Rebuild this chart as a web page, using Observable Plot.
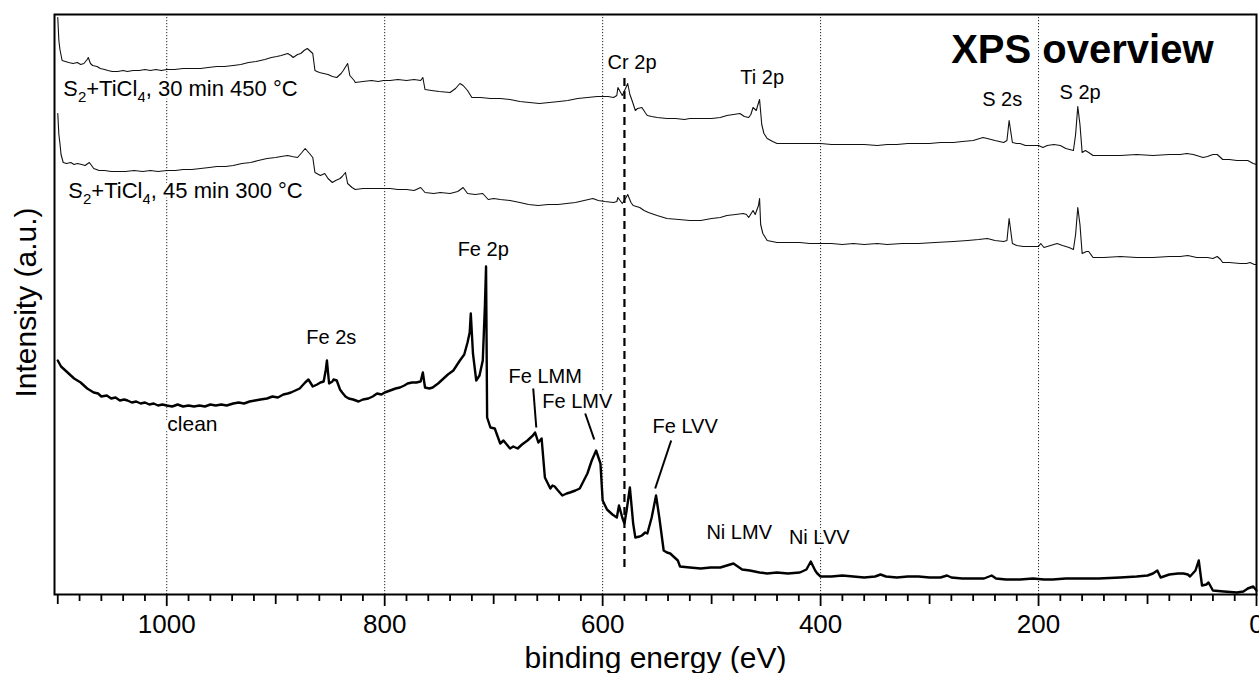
<!DOCTYPE html>
<html>
<head>
<meta charset="utf-8">
<script src="https://cdn.jsdelivr.net/npm/d3@7"></script>
<script src="https://cdn.jsdelivr.net/npm/@observablehq/plot@0.6"></script>
<style>
  html, body { margin: 0; padding: 0; background: #fff; overflow: hidden; }
  #chart svg { display: block; overflow: hidden; }
</style>
</head>
<body>
<div id="chart"></div>
<script>
const FONT = '"Liberation Sans", Arial, Helvetica, sans-serif';

// XPS survey spectra: [binding energy (eV), intensity (a.u., offset per trace)]
const cleanSpectrum = [
  [1100,234],[1097,228],[1094,225],[1091,222],[1088,219],[1085,216],[1082,214],[1079,212],[1076,209],[1073,206],
  [1070,204],[1067,202],[1063,201],[1060,198],[1055,199],[1051,196],[1047,197],[1043,194],[1039,195],[1036,194],
  [1032,192],[1028,193],[1024,191],[1020,192],[1016,190],[1012,191],[1008,189],[1004,190],[1000,189],[995,188],
  [990,190],[985,188],[980,189],[975,188],[970,189],[965,188],[960,190],[955,189],[950,190],[945,189],
  [939,191],[934,192],[929,191],[924,193],[919,194],[914,195],[908,196],[903,198],[898,197],[893,200],
  [889,201],[886,202],[882,204],[878,206],[873,212],[870,215],[866,208],[862,210],[859,212],[856,213],
  [854,225],[853,234],[852,222],[851,211],[848,213],[847,215],[844,214],[841,205],[839,202],[836,198],
  [833,196],[829,195],[824,193],[820,195],[815,196],[811,198],[807,201],[803,200],[800,202],[795,204],
  [790,206],[786,207],[782,209],[779,211],[775,212],[771,212],[767,213],[765,222],[763,207],[759,206],
  [756,207],[751,211],[746,216],[742,220],[737,224],[734,229],[731,234],[727,240],[724,252],[722,262],
  [721,281],[719,241],[716,214],[713,219],[712,224],[710,234],[708,290],[707,328],[706,177],[703,167],
  [699,166],[694,151],[691,154],[688,150],[685,146],[682,148],[678,146],[674,150],[669,154],[666,157],
  [664,159],[662,162],[659,152],[656,156],[653,117],[648,106],[646,109],[644,108],[641,104],[637,99],
  [633,101],[630,102],[625,104],[621,106],[614,121],[610,134],[606,144],[602,131],[600,94],[596,85],
  [591,80],[587,77],[585,89],[582,77],[580,71],[578,84],[575,107],[572,71],[570,57],[566,58],
  [564,59],[561,62],[559,61],[555,77],[551,99],[548,77],[544,44],[541,42],[538,41],[534,37],
  [531,34],[529,28],[520,27],[510,26],[501,27],[492,27],[486,29],[480,31],[472,25],[465,24],
  [456,22],[449,21],[440,22],[430,21],[419,22],[413,25],[409,33],[405,24],[403,21],[400,18],
  [390,18],[380,19],[370,18],[360,17],[350,18],[345,20],[340,18],[330,17],[320,18],[310,18],
  [300,17],[290,17],[284,19],[280,17],[270,16],[260,16],[250,16],[243,19],[239,16],[230,15],
  [217,15],[205,16],[195,15],[187,15],[175,16],[160,16],[145,16],[125,17],[110,18],[100,19],
  [95,21],[91,24],[88,17],[80,20],[72,21],[67,21],[63,20],[61,18],[56,24],[53,34],
  [50,9],[46,10],[44,12],[42,8],[40,4],[30,3],[18,2],[12,3],[8,6],[3,8],[0,4]
];

const spectrum300 = [
  [1100,481],[1099,460],[1098,451],[1097,440],[1095,432],[1092,431],[1088,432],[1085,430],[1082,431],[1078,430],
  [1075,429],[1071,432],[1067,426],[1062,424],[1057,424],[1051,423],[1045,423],[1038,423],[1030,424],[1022,423],
  [1015,424],[1008,423],[1000,424],[992,424],[985,425],[977,425],[969,426],[961,427],[954,428],[946,428],
  [939,429],[931,431],[923,432],[916,434],[908,436],[900,437],[895,438],[889,439],[885,438],[880,437],
  [876,442],[873,446],[869,441],[866,437],[864,422],[859,419],[857,420],[855,421],[852,416],[848,412],
  [845,414],[841,416],[839,418],[836,422],[834,411],[830,407],[827,405],[820,406],[813,406],[806,406],
  [801,406],[795,406],[788,405],[780,405],[773,404],[767,407],[763,402],[755,401],[749,402],[740,401],
  [733,403],[728,407],[724,401],[717,400],[710,401],[705,395],[700,396],[694,395],[685,394],[676,392],
  [668,390],[659,389],[650,390],[641,390],[633,391],[625,392],[617,394],[609,396],[604,394],[598,393],
  [590,392],[587,393],[586,397],[582,391],[579,396],[577,400],[574,392],[572,389],[569,388],[566,387],
  [562,384],[558,382],[550,379],[541,376],[530,375],[520,374],[510,374],[500,376],[492,377],[486,379],
  [478,380],[471,381],[468,380],[466,377],[462,384],[460,380],[457,389],[456,396],[455,370],[453,361],
  [449,354],[440,352],[430,352],[419,352],[410,351],[400,351],[390,351],[380,350],[370,351],[360,350],
  [348,351],[339,350],[325,351],[310,351],[295,352],[278,353],[265,354],[255,355],[247,356],[240,354],
  [232,353],[229,354],[227,376],[224,351],[220,349],[214,348],[207,348],[200,348],[198,351],[195,347],
  [189,349],[183,351],[178,349],[172,347],[168,345],[166,360],[164,387],[162,370],[160,341],[156,343],
  [154,343],[150,337],[140,337],[125,338],[110,337],[95,337],[80,338],[70,338],[63,339],[55,337],
  [45,337],[40,336],[36,338],[33,335],[31,332],[25,332],[15,331],[9,331],[6,332],[2,330],[0,330]
];

const spectrum450 = [
  [1100,577],[1099,554],[1098,545],[1096,534],[1093,533],[1090,532],[1086,531],[1082,532],[1079,530],[1076,531],
  [1073,535],[1072,537],[1070,531],[1068,529],[1064,528],[1061,526],[1057,525],[1054,524],[1050,523],[1045,523],
  [1040,524],[1036,523],[1031,524],[1025,524],[1020,525],[1015,524],[1010,525],[1005,524],[1000,525],[993,525],
  [985,526],[977,526],[969,526],[962,527],[954,528],[947,528],[939,529],[932,530],[925,532],[918,533],
  [914,534],[910,535],[904,537],[899,538],[895,539],[892,540],[889,541],[886,539],[884,537],[880,540],
  [877,541],[874,544],[871,546],[868,543],[866,541],[864,524],[860,522],[856,521],[852,520],[848,518],
  [844,517],[840,521],[838,524],[834,531],[832,519],[828,514],[827,512],[820,513],[812,514],[806,513],
  [801,514],[795,514],[788,515],[780,514],[773,515],[767,514],[765,517],[763,505],[757,504],[750,503],
  [740,502],[735,506],[731,511],[728,509],[724,504],[720,497],[712,497],[703,496],[694,496],[685,495],
  [676,493],[667,492],[658,491],[649,492],[640,493],[632,494],[623,496],[614,497],[605,498],[602,498],
  [595,498],[590,497],[587,499],[586,507],[583,501],[582,499],[579,506],[577,511],[575,500],[573,494],
  [570,484],[568,486],[564,487],[561,482],[559,479],[555,478],[550,477],[541,476],[533,476],[525,475],
  [520,476],[510,476],[500,476],[492,477],[486,479],[480,480],[474,481],[470,478],[466,477],[464,480],
  [462,487],[459,484],[458,488],[456,495],[454,470],[452,461],[449,456],[444,453],[440,451],[430,451],
  [419,451],[410,451],[400,451],[390,450],[380,450],[370,450],[360,450],[348,449],[339,450],[330,450],
  [320,451],[310,451],[300,451],[290,452],[278,452],[270,453],[260,454],[251,457],[247,456],[240,454],
  [232,452],[229,454],[227,474],[224,452],[220,451],[217,451],[212,449],[205,449],[200,449],[196,447],
  [192,449],[186,450],[180,449],[175,446],[168,444],[166,460],[164,488],[162,470],[160,442],[157,444],
  [154,442],[150,439],[140,439],[125,439],[110,440],[95,439],[80,440],[70,440],[64,441],[58,440],
  [52,438],[49,437],[45,438],[40,440],[36,440],[34,438],[31,435],[25,435],[18,434],[12,434],
  [8,434],[3,431],[0,430]
];

// Peak assignments, placed at (binding energy, intensity)
const peakLabels = [
  {text: "Cr 2p",  be: 573,   y: 526},
  {text: "Ti 2p",  be: 453.6, y: 511},
  {text: "S 2s",   be: 233.4, y: 489},
  {text: "S 2p",   be: 161.8, y: 496},
  {text: "Fe 2s",  be: 849,   y: 251},
  {text: "Fe 2p",  be: 709.6, y: 339},
  {text: "Fe LMM", be: 652.7, y: 212},
  {text: "Fe LMV", be: 623.3, y: 187},
  {text: "Fe LVV", be: 524.3, y: 162},
  {text: "Ni LMV", be: 474.7, y: 56},
  {text: "Ni LVV", be: 401.2, y: 51}
];

// Trace names
const traceLabels = [
  {text: "S2+TiCl4, 30 min 450 °C", be: 1095,   y: 499, size: 22},
  {text: "S2+TiCl4, 45 min 300 °C", be: 1090.3, y: 397, size: 22},
  {text: "clean",                   be: 999.5,  y: 164, size: 21}
];

// Leader lines from labels to the Auger features
const leaders = [
  {be1: 663.7, y1: 206, be2: 660.9, y2: 167},
  {be1: 616.0, y1: 181, be2: 607.7, y2: 155},
  {be1: 537.1, y1: 154, be2: 551.8, y2: 106}
];

// Cr 2p reference energy
const crMarker = [{be: 580, y1: 27, y2: 521}];

const gridEnergies = [1000, 800, 600, 400, 200];
const labelTicks = [0, 200, 400, 600, 800, 1000];
const midTicks = [100, 300, 500, 700, 900, 1100];
const minorTicks = d3.range(0, 1101, 20).filter(v => v % 100 !== 0);

const plot = Plot.plot({
  width: 1259,
  height: 673,
  marginLeft: 54,
  marginRight: 3,
  marginTop: 14,
  marginBottom: 79,
  x: {domain: [1103, 0]},
  y: {domain: [0, 580], axis: null},
  style: {fontFamily: FONT, fontSize: "26px", color: "#000", background: "#fff"},
  marks: [
    Plot.ruleX(gridEnergies, {stroke: "#222", strokeWidth: 1, strokeDasharray: "1.2,1.8"}),
    Plot.axisX(minorTicks, {tickSize: 7, strokeWidth: 1.8, tickFormat: () => "", label: null}),
    Plot.axisX(midTicks, {tickSize: 10, strokeWidth: 1.8, tickFormat: () => "", label: null}),
    Plot.axisX(labelTicks, {tickSize: 12, tickPadding: 8, strokeWidth: 1.8, fontSize: 26,
      tickFormat: d => String(d), label: null}),
    Plot.text(peakLabels, {x: "be", y: "y", text: "text", fontSize: 20, lineAnchor: "bottom",
      fill: "#000", stroke: "#fff", strokeWidth: 6, paintOrder: "stroke"}),
    Plot.text(traceLabels, {x: "be", y: "y", text: "text", fontSize: d => d.size, lineAnchor: "bottom",
      textAnchor: "start", fill: "#000", stroke: "#fff", strokeWidth: 6, paintOrder: "stroke"}),
    Plot.text(["XPS overview"], {frameAnchor: "top-right", dx: -43, dy: 48, lineAnchor: "bottom",
      textAnchor: "end", fontSize: 40, fontWeight: "bold", fill: "#000",
      stroke: "#fff", strokeWidth: 10, paintOrder: "stroke"}),
    Plot.ruleX(crMarker, {x: "be", y1: "y1", y2: "y2", stroke: "#000", strokeWidth: 2.2,
      strokeDasharray: "8,5"}),
    Plot.line(spectrum450, {x: d => d[0], y: d => d[1], stroke: "#111", strokeWidth: 1.1}),
    Plot.line(spectrum300, {x: d => d[0], y: d => d[1], stroke: "#111", strokeWidth: 1.1}),
    Plot.line(cleanSpectrum, {x: d => d[0], y: d => d[1], stroke: "#000", strokeWidth: 2.4}),
    Plot.link(leaders, {x1: "be1", y1: "y1", x2: "be2", y2: "y2", stroke: "#000", strokeWidth: 2}),
    Plot.frame({stroke: "#000", strokeWidth: 2}),
    Plot.text(["binding energy (eV)"], {frameAnchor: "bottom", dy: 73, lineAnchor: "bottom",
      textAnchor: "middle", fontSize: 30, fill: "#000"}),
    Plot.text(["Intensity (a.u.)"], {frameAnchor: "left", rotate: -90, dx: -19, dy: -2,
      lineAnchor: "bottom", textAnchor: "middle", fontSize: 30, fill: "#000"})
  ]
});

document.getElementById("chart").appendChild(plot);

// Chemical formulas: render the digits in S2 and TiCl4 as subscripts
const SVGNS = "http://www.w3.org/2000/svg";
plot.querySelectorAll("text").forEach(t => {
  const m = /^S2\+TiCl4(.*)$/.exec(t.textContent);
  if (!m) return;
  t.textContent = "";
  const parts = [["S", false], ["2", true], ["+TiCl", false], ["4", true], [m[1], false]];
  let shifted = false;
  for (const [s, sub] of parts) {
    const ts = document.createElementNS(SVGNS, "tspan");
    ts.textContent = s;
    if (sub) {
      ts.setAttribute("font-size", "15");
      ts.setAttribute("dy", "6");
      shifted = true;
    } else if (shifted) {
      ts.setAttribute("dy", "-6");
      shifted = false;
    }
    t.appendChild(ts);
  }
});
</script>
</body>
</html>
